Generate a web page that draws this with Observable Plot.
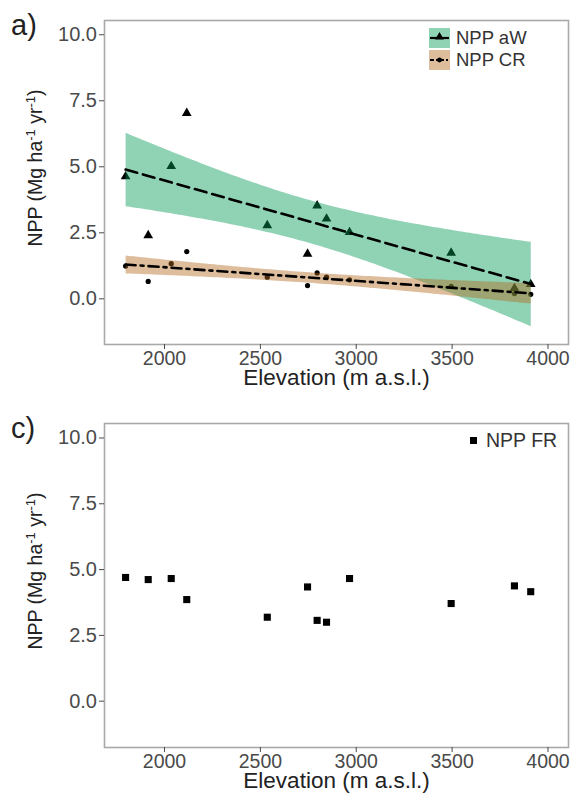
<!DOCTYPE html>
<html><head><meta charset="utf-8">
<script src="https://cdn.jsdelivr.net/npm/d3@7"></script>
<script src="https://cdn.jsdelivr.net/npm/@observablehq/plot@0.6"></script>
<style>
body{margin:0;background:#fff;}
#chart{width:572px;height:796px;overflow:hidden;}
#chart svg{display:block;}
</style></head><body><div id="chart"></div>
<script>
// ---- data ----
const elevation = [1797, 1915, 2035, 2116, 2536, 2746, 2796, 2845, 2965, 3495, 3825, 3910];
const nppAW = [4.63, 2.40, 5.02, 7.03, 2.78, 1.70, 3.53, 3.03, 2.52, 1.74, 0.40, 0.55];
const nppCR = [1.24, 0.66, 1.33, 1.79, 0.82, 0.50, 0.98, 0.82, 0.72, 0.47, 0.20, 0.17];
const nppFR = [4.70, 4.62, 4.66, 3.86, 3.19, 4.34, 3.07, 3.00, 4.66, 3.71, 4.38, 4.16];
const xTicks = [2000, 2500, 3000, 3500, 4000];
const yTicks = [0, 2.5, 5, 7.5, 10];
const seriesNames = ["NPP aW", "NPP CR", "NPP FR"];
const panelLabels = ["a)", "c)"];
const xTitle = "Elevation (m a.s.l.)";

const rows = elevation.map((e, i) => ({elev: e, aW: nppAW[i], cr: nppCR[i], fr: nppFR[i]}));

const font = "'Liberation Sans', Arial, Helvetica, sans-serif";
const greenFill = "#009854", tanFill = "#b46920", bandOpacity = 0.44;
const W = 572;

function axes() {
  return [
    Plot.frame({stroke: "#a9a9a9", strokeWidth: 1.6}),
    Plot.axisX(xTicks, {tickSize: 5, tickPadding: 2, fontSize: 19.5, color: "#4a4a4a", tickFormat: d3.format("d"), label: null}),
    Plot.axisY(yTicks, {tickSize: 5, tickPadding: 2.5, fontSize: 20, color: "#4a4a4a", tickFormat: d3.format(".1f"), label: null}),
    Plot.text([xTitle], {text: d => d, frameAnchor: "bottom", dy: 40, fontSize: 22.5, fill: "#222"})
  ];
}

function decorate(svg, label) {
  const s = d3.select(svg);
  s.append("text").attr("x", 11).attr("y", 35).attr("font-size", 29).attr("fill", "#222")
    .attr("text-anchor", "start").attr("font-family", font).text(label);
  const t = s.append("text")
    .attr("transform", "translate(42,168) rotate(-90)")
    .attr("text-anchor", "middle").attr("font-size", 19.5).attr("fill", "#222").attr("font-family", font);
  t.append("tspan").text("NPP (Mg ha");
  t.append("tspan").attr("dy", -7).attr("font-size", 13).text("-1");
  t.append("tspan").attr("dy", 7).text(" yr");
  t.append("tspan").attr("dy", -7).attr("font-size", 13).text("-1");
  t.append("tspan").attr("dy", 7).text(")");
  return s;
}

// ---- panel a ----
const topPlot = Plot.plot({
  width: W, height: 403, marginLeft: 104, marginRight: 4, marginTop: 20, marginBottom: 59,
  style: {fontFamily: font, background: "white", overflow: "visible"},
  x: {domain: [1687, 4107]},
  y: {domain: [-1.73, 10.54]},
  marks: [
    Plot.dot(rows, {x: "elev", y: "aW", symbol: "triangle", r: 3.6, fill: "black"}),
    Plot.dot(rows, {x: "elev", y: "cr", r: 2.6, fill: "black"}),
    Plot.linearRegressionY(rows, {x: "elev", y: "aW", stroke: "none", fill: greenFill, fillOpacity: bandOpacity}),
    Plot.linearRegressionY(rows, {x: "elev", y: "cr", stroke: "none", fill: tanFill, fillOpacity: bandOpacity}),
    Plot.linearRegressionY(rows, {x: "elev", y: "aW", ci: 0, stroke: "black", strokeWidth: 2.6, strokeDasharray: "12,6"}),
    Plot.linearRegressionY(rows, {x: "elev", y: "cr", ci: 0, stroke: "black", strokeWidth: 2.6, strokeDasharray: "10,5,3,5"}),
    ...axes()
  ]
});
{
  const s = decorate(topPlot, panelLabels[0]);
  const g = s.append("g").attr("font-family", font);
  const keys = [
    {name: seriesNames[0], fill: greenFill, y: 28, dash: null, sym: "tri"},
    {name: seriesNames[1], fill: tanFill, y: 50, dash: "4,2,2,2", sym: "dot"}
  ];
  keys.forEach(k => {
    g.append("rect").attr("x", 429).attr("y", k.y).attr("width", 21).attr("height", 20)
      .attr("fill", k.fill).attr("fill-opacity", bandOpacity);
    g.append("line").attr("x1", 430).attr("x2", 449).attr("y1", k.y + 10).attr("y2", k.y + 10)
      .attr("stroke", "black").attr("stroke-width", 2.2).attr("stroke-dasharray", k.dash);
    if (k.sym === "tri") g.append("path").attr("d", d3.symbol(d3.symbolTriangle, 34)()).attr("transform", `translate(439.5,${k.y + 9})`);
    else g.append("circle").attr("cx", 439.5).attr("cy", k.y + 10).attr("r", 2.4);
    g.append("text").attr("x", 456).attr("y", k.y + 10).attr("dy", "0.35em").attr("font-size", 18.5)
      .attr("text-anchor", "start").attr("fill", "#333").text(k.name);
  });
}

// ---- panel c ----
const botPlot = Plot.plot({
  width: W, height: 393, marginLeft: 104, marginRight: 4, marginTop: 20, marginBottom: 49,
  style: {fontFamily: font, background: "white", overflow: "visible"},
  x: {domain: [1687, 4107]},
  y: {domain: [-1.76, 10.55]},
  marks: [
    Plot.dot(rows, {x: "elev", y: "fr", symbol: "square", r: 4, fill: "black"}),
    ...axes()
  ]
});
{
  const s = decorate(botPlot, panelLabels[1]);
  s.append("rect").attr("x", 470).attr("y", 34).attr("width", 7).attr("height", 7).attr("fill", "black");
  s.append("text").attr("x", 486).attr("y", 37.5).attr("dy", "0.35em").attr("font-size", 19.5)
    .attr("text-anchor", "start").attr("font-family", font).attr("fill", "#333").text(seriesNames[2]);
}

document.getElementById("chart").append(topPlot, botPlot);
</script>
</body></html>
